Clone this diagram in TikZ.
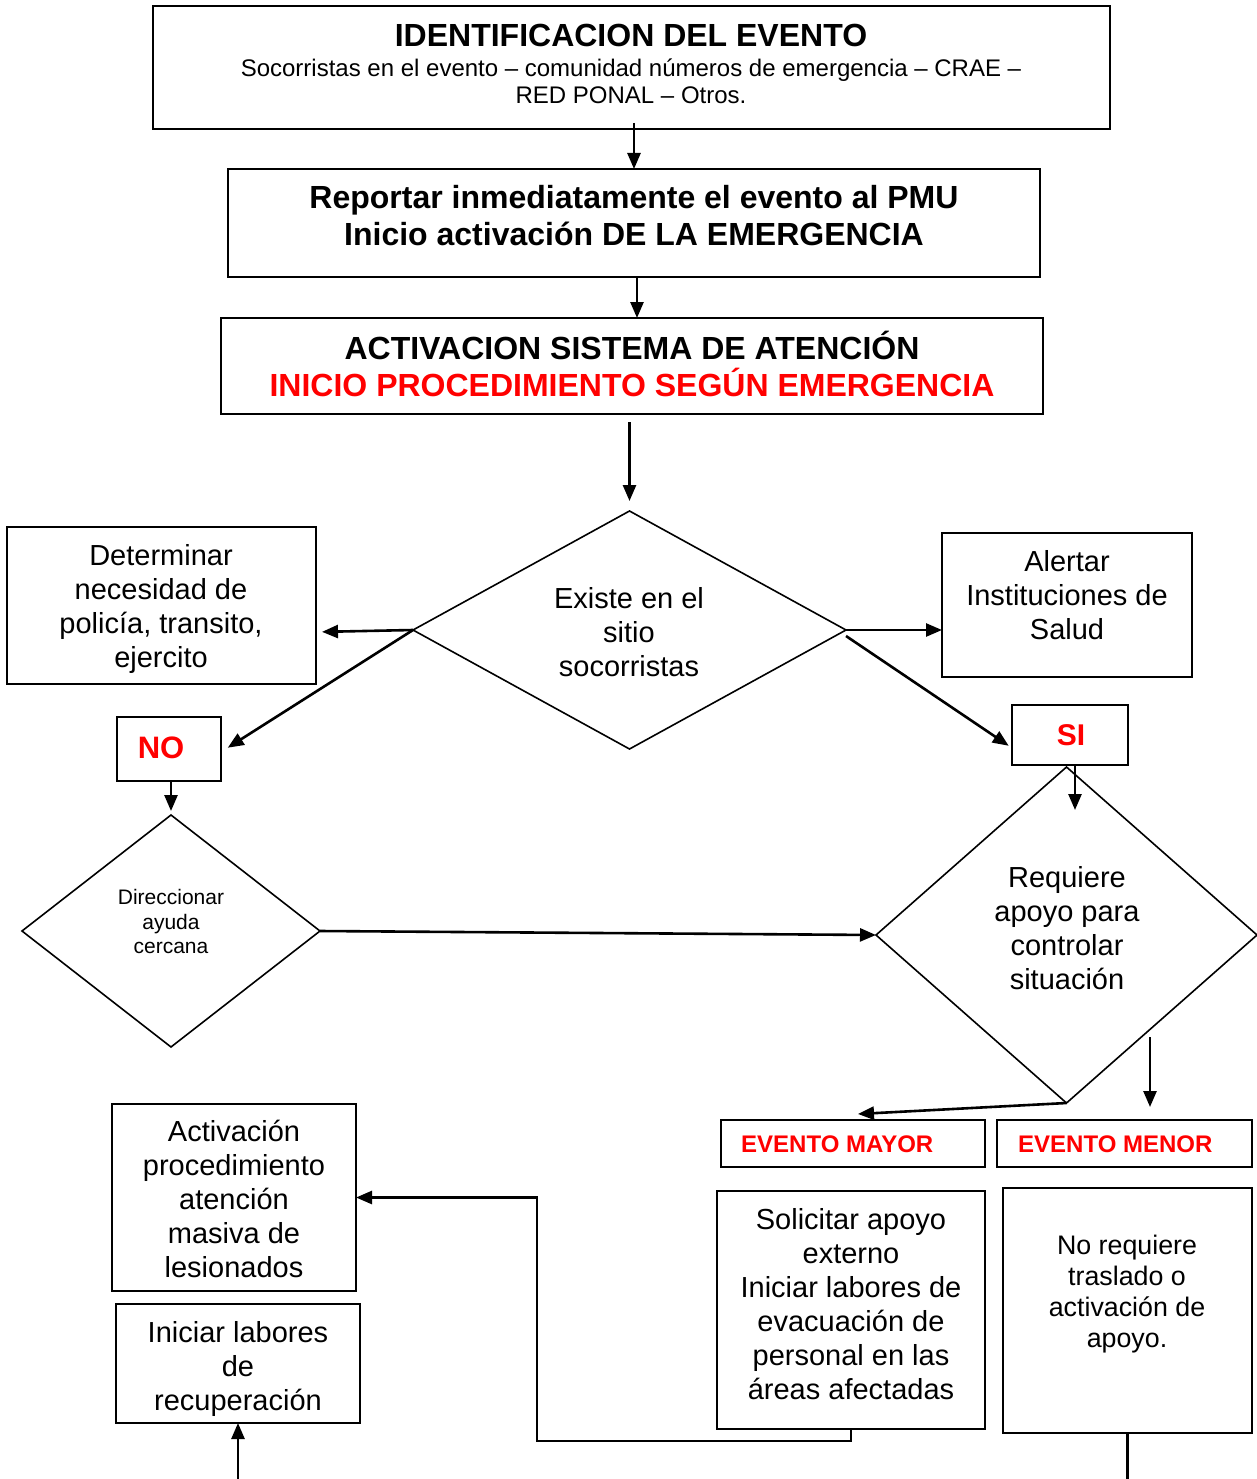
\documentclass[tikz,border=0pt]{standalone}
\usepackage{fontspec}
\setmainfont{Liberation Sans}
\usetikzlibrary{shapes.geometric,arrows.meta}
\begin{document}
\begin{tikzpicture}[x=1pt,y=-1pt,
  boxst/.style={draw, line width=1.8pt, inner sep=0pt, outer sep=0pt},
  dia/.style={draw, diamond, line width=1.6pt, inner sep=0pt, outer sep=0pt},
  txt/.style={inner sep=0pt, align=center, font=\fontsize{29}{34}\selectfont},
  arr/.style={line width=2.6pt, -{Triangle[length=16pt,width=13pt]}},
  ln/.style={line width=2.6pt}]
\useasboundingbox (0,0) rectangle (1257,1479);

% boxes
\node[boxst, minimum width=957pt, minimum height=123pt] (box1) at (631.5,67.5) {};
\node[boxst, minimum width=812pt, minimum height=108pt] (box2) at (634,223) {};
\node[boxst, minimum width=822pt, minimum height=96pt] (box3) at (632,366) {};
\node[boxst, minimum width=309pt, minimum height=157pt] (det) at (161.5,605.5) {};
\node[boxst, minimum width=250pt, minimum height=144pt] (alert) at (1067,605) {};
\node[boxst, minimum width=104pt, minimum height=64pt] (no) at (169,749) {};
\node[boxst, minimum width=116pt, minimum height=60pt] (si) at (1070,735) {};
\node[boxst, minimum width=264pt, minimum height=47pt] (mayor) at (853,1143.5) {};
\node[boxst, minimum width=255pt, minimum height=47pt] (menor) at (1124.5,1143.5) {};
\node[boxst, minimum width=268pt, minimum height=238pt] (sol) at (851,1310) {};
\node[boxst, minimum width=249pt, minimum height=245pt] (nor) at (1127.5,1310.5) {};
\node[boxst, minimum width=244pt, minimum height=187pt] (act) at (234,1197.5) {};
\node[boxst, minimum width=244pt, minimum height=119pt] (inic) at (238,1363.5) {};

% diamonds
\node[dia, minimum width=433pt, minimum height=238pt] (d1) at (629.5,630) {};
\node[dia, minimum width=298pt, minimum height=232pt] (d2) at (171,931) {};
\node[dia, minimum width=381pt, minimum height=336pt] (d3) at (1066.5,935) {};

% texts
\node[txt, font=\bfseries\fontsize{32}{34}\selectfont] (t1a) at (631,35) {IDENTIFICACION DEL EVENTO};
\node[txt, font=\fontsize{24}{27}\selectfont] (t1b) at (631,81) {Socorristas en el evento -- comunidad números de emergencia -- CRAE --\\RED PONAL -- Otros.};
\node[txt, font=\bfseries\fontsize{32}{37}\selectfont] (t2) at (634,216) {Reportar inmediatamente el evento al PMU\\Inicio activación DE LA EMERGENCIA};
\node[txt, font=\bfseries\fontsize{32}{37}\selectfont] (t3a) at (632,345.5) {ACTIVACION SISTEMA DE ATENCIÓN};
\node[txt, font=\bfseries\fontsize{32}{37}\selectfont, text=red] (t3b) at (632,382.5) {INICIO PROCEDIMIENTO SEGÚN EMERGENCIA};
\node[txt] (td1) at (629,632) {Existe en el\\sitio\\socorristas};
\node[txt] (tdet) at (161,608.5) {Determinar\\necesidad de\\policía, transito,\\ejercito};
\node[txt] (talert) at (1067,595.5) {Alertar\\Instituciones de\\Salud};
\node[txt, font=\bfseries\fontsize{31}{34}\selectfont, text=red] (tno) at (161,748) {NO};
\node[txt, font=\bfseries\fontsize{30}{34}\selectfont, text=red] (tsi) at (1071,735) {SI};
\node[txt, font=\fontsize{21}{24.5}\selectfont] (td2) at (171,921.5) {Direccionar\\ayuda\\cercana};
\node[txt] (td3) at (1067,928.5) {Requiere\\apoyo para\\controlar\\situación};
\node[txt, font=\bfseries\fontsize{24}{28}\selectfont, text=red, anchor=west] (tmayor) at (741,1144) {EVENTO MAYOR};
\node[txt, font=\bfseries\fontsize{24}{28}\selectfont, text=red, anchor=west] (tmenor) at (1018,1144) {EVENTO MENOR};
\node[txt] (tsol) at (851,1304) {Solicitar apoyo\\externo\\Iniciar labores de\\evacuación de\\personal en las\\áreas afectadas};
\node[txt, font=\fontsize{26.8}{31}\selectfont] (tnor) at (1127,1294.5) {No requiere\\traslado o\\activación de\\apoyo.};
\node[txt] (tact) at (234,1198.5) {Activación\\procedimiento\\atención\\masiva de\\lesionados};
\node[txt] (tinic) at (238,1369) {Iniciar labores\\de\\recuperación};

% helper coordinates
\coordinate (sidown) at (1075,810);
\coordinate (m1) at (1150,1037);
\coordinate (bend) at (537,1441);
\coordinate (bot) at (0,1479);

% connectors
\draw[arr] (box2.north |- box1.south) ++(0,-6) -- (box2.north);
\draw[arr] ([xshift=3pt]box2.south) -- ([xshift=3pt]box2.south |- box3.north);
\draw[arr, shorten <=8pt, shorten >=10pt] (d1.north |- box3.south) -- (d1.north);
\draw[arr, shorten >=6pt] (d1.west) -- ([yshift=-2pt]d1.west -| det.east);
\draw[arr, shorten >=8pt] (d1.west) -- ([yshift=-3pt]no.east);
\draw[arr] (d1.east) -- (d1.east -| alert.west);
\draw[arr, shorten >=4pt] ([yshift=-6pt]d1.east) -- ([yshift=-13pt]si.west);
\draw[arr, shorten >=4pt] ([xshift=2pt]no.south) -- (d2.north);
\draw[arr] (d2.east) -- (d3.west);
\draw[arr] (si.south -| sidown) -- (sidown);
\draw[arr, shorten >=13pt] (m1) -- (m1 |- menor.north);
\draw[arr] (d3.south) -- ([xshift=5pt,yshift=6pt]mayor.north);
\draw[arr] (sol.south) -- (sol.south |- bend) -- (bend) -- (bend |- act.east) -- (act.east);
\draw[ln] (nor.south) -- (nor.south |- bot);
\draw[arr] (inic.south |- bot) -- (inic.south);
\end{tikzpicture}
\end{document}
